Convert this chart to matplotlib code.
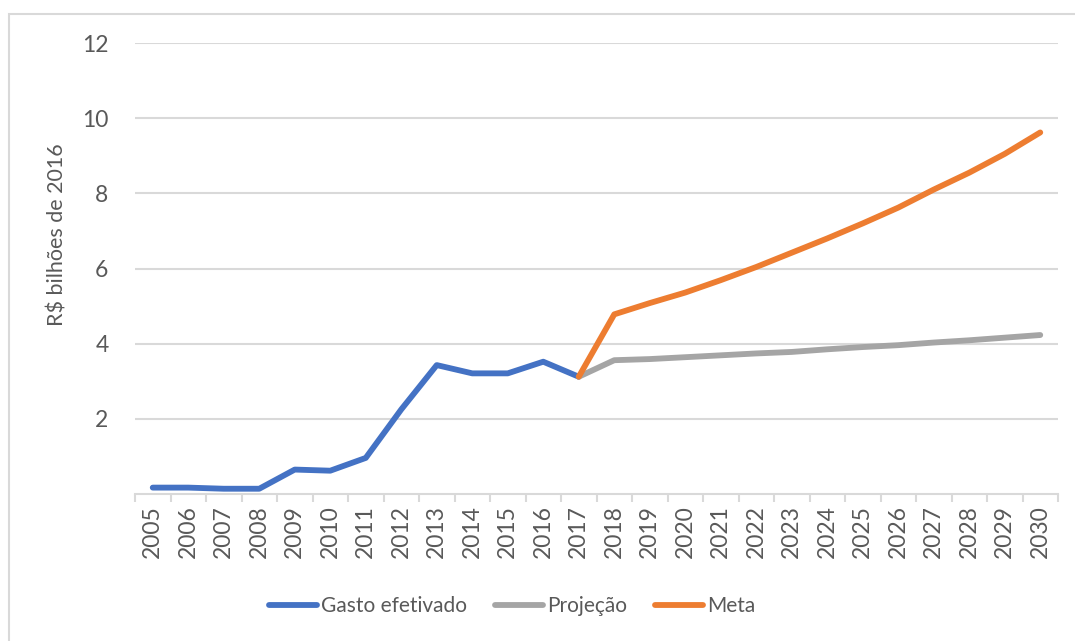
import matplotlib
matplotlib.use("Agg")
import matplotlib.pyplot as plt
from matplotlib.patches import Rectangle
from matplotlib.lines import Line2D

years = [str(y) for y in range(2005, 2031)]
gasto_years = years[:13]          # 2005-2017
gasto = [0.17, 0.17, 0.14, 0.14, 0.65, 0.62, 0.96, 2.25, 3.43, 3.21, 3.21, 3.52, 3.12]
proj_years = years[12:]           # 2017-2030
projecao = [3.12, 3.56, 3.59, 3.64, 3.69, 3.74, 3.78, 3.85, 3.91, 3.96, 4.03, 4.09, 4.16, 4.23]
meta_years = years[12:]
meta = [3.12, 4.78, 5.08, 5.36, 5.69, 6.04, 6.42, 6.80, 7.20, 7.62, 8.10, 8.55, 9.05, 9.62]
yticks = [2, 4, 6, 8, 10, 12]
ylabel = "R$ bilhões de 2016"
labels = ["Gasto efetivado", "Projeção", "Meta"]

plt.rcParams['font.family'] = ['Lato', 'DejaVu Sans']
txt = '#595959'
grid = '#d9d9d9'
c_blue, c_gray, c_orange = '#4472c4', '#a5a5a5', '#ed7d31'

fig = plt.figure(figsize=(10.75, 6.41), dpi=100)
W, H = 1075, 641
# outer chart border
fig.patches.append(Rectangle((9 / W, -0.05), 1.2, 1 - 14 / H + 0.05, transform=fig.transFigure,
                             fill=False, edgecolor=grid, linewidth=1.5))

ax = fig.add_axes([135 / W, 1 - 494 / H, (1058 - 135) / W, (494 - 43) / H])
idx = {y: i for i, y in enumerate(years)}
x_g = [idx[y] for y in gasto_years]
x_p = [idx[y] for y in proj_years]
x_m = [idx[y] for y in meta_years]

lw = 4.2
ax.plot(x_p, projecao, color=c_gray, lw=lw, solid_capstyle='round', solid_joinstyle='round', zorder=3)
ax.plot(x_m, meta, color=c_orange, lw=lw, solid_capstyle='round', solid_joinstyle='round', zorder=4)
ax.plot(x_g, gasto, color=c_blue, lw=lw, solid_capstyle='round', solid_joinstyle='round', zorder=2)

ax.set_xlim(-0.5, len(years) - 0.5)
ax.set_ylim(0, 12)
ax.set_yticks(yticks)
ax.set_yticklabels([str(t) for t in yticks], fontsize=16.5, color=txt)
ax.tick_params(axis='y', length=0, pad=19)
ax.yaxis.grid(True, color=grid, lw=1.5)
ax.set_axisbelow(True)

ax.set_xticks(range(len(years)))
ax.set_xticklabels(years, rotation=90, fontsize=16.5, color=txt)
ax.set_xticks([i - 0.5 for i in range(len(years) + 1)], minor=True)
ax.tick_params(axis='x', which='major', length=0, pad=8)
ax.tick_params(axis='x', which='minor', length=6, color=grid, width=1.5)

for s in ['top', 'right', 'left']:
    ax.spines[s].set_visible(False)
ax.spines['bottom'].set_color(grid)
ax.spines['bottom'].set_linewidth(1.5)

fig.text(58 / W, 1 - 235 / H, ylabel, rotation=90, ha='center', va='center', fontsize=15.5, color=txt)

handles = [Line2D([], [], color=c, lw=lw, solid_capstyle='round') for c in (c_blue, c_gray, c_orange)]
fig.legend(handles, labels, loc='center', bbox_to_anchor=(512 / W, 1 - 606 / H), ncol=3, frameon=False,
           fontsize=15, labelcolor=txt, handlelength=2.3, handletextpad=0.2, columnspacing=1.35)

fig.savefig("out.png", dpi=100, facecolor='white')
